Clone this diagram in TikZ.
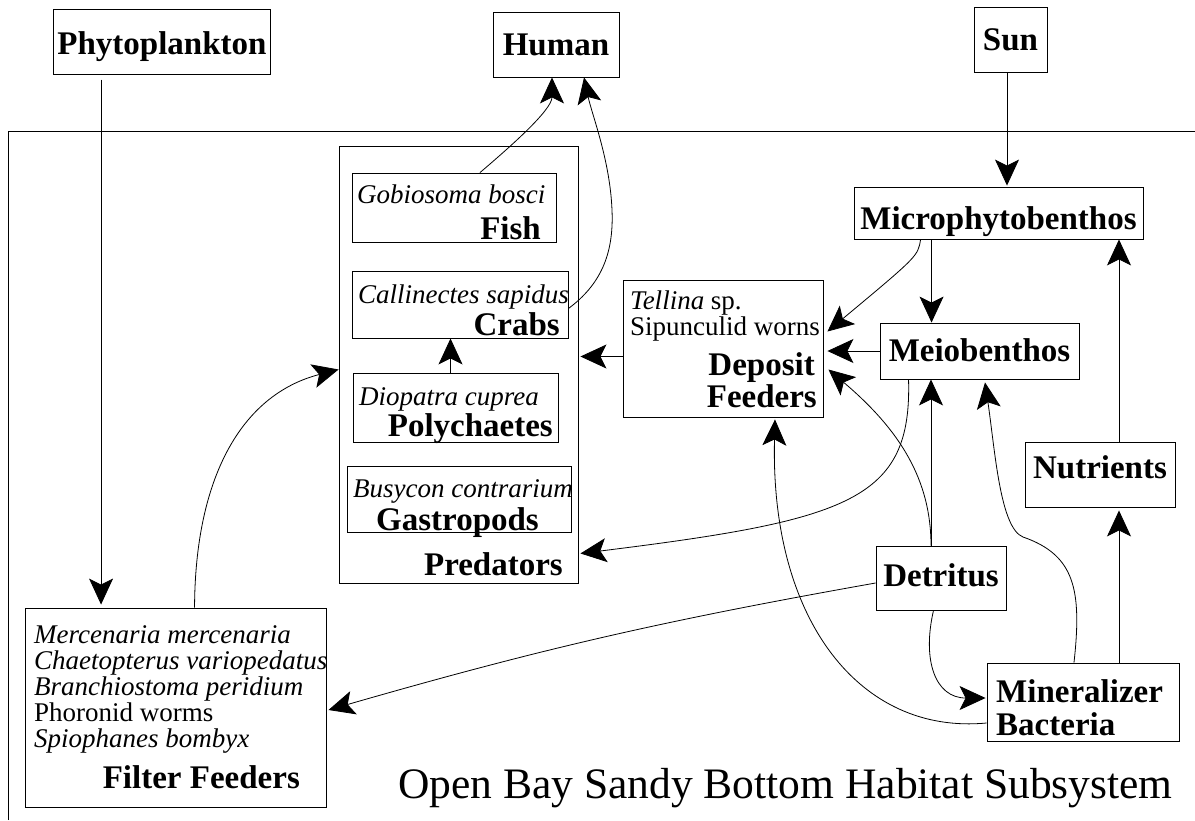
\documentclass[tikz,border=0pt]{standalone}
\usepackage{fontspec}
\setmainfont{Liberation Serif}
\usetikzlibrary{arrows.meta,calc}
\tikzset{
  box/.style={draw,line width=0.9pt,inner sep=0pt,text height=24pt,text depth=3pt,
    font=\fontsize{33}{36}\selectfont\bfseries},
  grp/.style={inner sep=0pt,font=\fontsize{33}{36}\selectfont\bfseries},
  spc/.style={inner sep=0pt,font=\fontsize{27}{29}\selectfont\itshape},
  txt/.style={inner sep=0pt,font=\fontsize{27}{29}\selectfont},
  flow/.style={line width=0.8pt,-{Stealth[length=26pt,width=24pt,inset=6pt]}},
}

\begin{document}
\begin{tikzpicture}[x=1pt,y=-1pt]
  \useasboundingbox (0,0) rectangle (1195,820);
  % habitat frame
  \draw[line width=0.9pt] (8,820) -- (8,131.5) -- (1195,131.5);
  % outside the habitat
  \node[box,minimum width=217pt,minimum height=65pt,text height=28pt] (phyto) at (162,41.7) {Phytoplankton};
  \node[box,minimum width=126pt,minimum height=65pt] (human) at (556,44.5) {Human};
  \node[box,minimum width=73pt,minimum height=65pt] (sun) at (1010.5,39.5) {Sun};
  % producers and benthos
  \node[box,minimum width=289pt,minimum height=52pt,text height=37pt,text depth=5pt] (micro) at (998.5,213) {Microphytobenthos};
  \node[box,minimum width=199pt,minimum height=56pt] (meio) at (979.5,351) {Meiobenthos};
  \node[box,minimum width=150pt,minimum height=65pt,text height=22pt,text depth=15pt] (nutr) at (1100,474.5) {Nutrients};
  \node[box,minimum width=130pt,minimum height=64pt,text height=22pt,text depth=5pt] (detr) at (941,578) {Detritus};
  \node[box,minimum width=192pt,minimum height=78pt] (miner) at (1083,702) {};
  \node[grp,anchor=base west] (minertxt) at (996,702) {Mineralizer};
  \node[grp,anchor=base west] (bacttxt) at (996,735) {Bacteria};
  % deposit feeders
  \node[box,minimum width=200pt,minimum height=137pt] (depo) at (723,348.5) {};
  \node[txt,anchor=base west] (tellina) at (630,309) {\textit{Tellina} sp.};
  \node[txt,anchor=base west] (sipun) at (630,335) {Sipunculid worns};
  \node[grp,anchor=base east] (deposit) at (815,375) {Deposit};
  \node[grp,anchor=base east] (feeders) at (817,407) {Feeders};
  % predators
  \node[box,minimum width=239pt,minimum height=437pt] (pred) at (458.5,364.5) {};
  \node[grp,anchor=base east] (predtxt) at (563,575) {Predators};
  \node[box,minimum width=204pt,minimum height=69pt] (fish) at (454,207.5) {};
  \node[spc,anchor=base west] (gobio) at (357,203) {Gobiosoma bosci};
  \node[grp,anchor=base east] (fishtxt) at (541,239) {Fish};
  \node[box,minimum width=216pt,minimum height=67pt] (crab) at (460,304.5) {};
  \node[spc,anchor=base west] (callin) at (358,303) {Callinectes sapidus};
  \node[grp,anchor=base east] (crabtxt) at (560,335) {Crabs};
  \node[box,minimum width=205pt,minimum height=69pt] (poly) at (455.5,407.5) {};
  \node[spc,anchor=base west] (diopa) at (359,405) {Diopatra cuprea};
  \node[grp,anchor=base east] (polytxt) at (553,436) {Polychaetes};
  \node[box,minimum width=224pt,minimum height=66pt] (gast) at (459,499) {};
  \node[spc,anchor=base west] (busyc) at (353,497) {Busycon contrarium};
  \node[grp,anchor=base west] (gasttxt) at (376,530) {Gastropods};
  % filter feeders
  \node[box,minimum width=301pt,minimum height=199pt] (filt) at (175.5,707.5) {};
  \foreach \t [count=\i] in {\textit{Mercenaria mercenaria},\textit{Chaetopterus variopedatus},
      \textit{Branchiostoma peridium},Phoronid worms,\textit{Spiophanes bombyx}}
    \node[txt,anchor=base west] (ff\i) at (34,{617+26*\i}) {\t};
  \node[grp,anchor=base east] (filttxt) at (300,788) {Filter Feeders};
  \node[anchor=base west,inner sep=0pt,font=\fontsize{43.5}{48}\selectfont] (title) at (398,798)
    {Open Bay Sandy Bottom Habitat Subsystem};
  % flows
  \draw[flow] ([xshift=48pt,yshift=-5pt]phyto.south west) -- ([xshift=76.5pt,yshift=3pt]filt.north west);
  \draw[flow,shorten >=1pt] ([xshift=-3.5pt]sun.south) -- ([xshift=-3.5pt]sun.south |- micro.north);
  \draw[flow] ([xshift=78pt]micro.south west) -- ([xshift=78pt]micro.south west |- meio.north);
  \draw[flow] ([xshift=67pt]micro.south west) .. controls (918,256) .. ([xshift=4pt,yshift=17pt]depo.east);
  \draw[flow,shorten >=4pt] (meio.west) -- (meio.west -| depo.east);
  \draw[flow,shorten >=2pt] ([yshift=-8pt]depo.west) -- ([yshift=-8pt]depo.west -| pred.east);
  \draw[flow] ([xshift=-5pt]poly.north) -- ([xshift=-5pt]poly.north |- crab.south);
  \draw[flow] ([xshift=26pt]fish.north) .. controls (510,147) and (552,110) .. ([xshift=-4pt]human.south);
  \draw[flow] ([yshift=-4pt]crab.east) .. controls (600,285) and (614,255) .. (612,210)
    .. controls (610,160) and (592,115) .. ([xshift=28pt]human.south);
  \draw[flow] ([xshift=170pt]filt.north west) .. controls (195,480) and (240,395) .. ([yshift=-5pt]pred.west);
  \draw[flow] ([xshift=29pt]meio.south west) .. controls (912,500) and (850,520) .. ([xshift=2pt,yshift=30pt]pred.south east);
  \draw[flow] ([xshift=-10pt]detr.north) .. controls (931,480) and (900,430) .. ([xshift=5pt,yshift=-21pt]depo.east);
  \draw[flow] ([xshift=-10pt]detr.north) -- ([xshift=-10pt]detr.north |- meio.south);
  \draw[flow] ([yshift=-5pt]detr.west) to[bend right=3] ([xshift=2pt,yshift=-2.5pt]filt.east);
  \draw[flow] ([xshift=-7.5pt]detr.south) .. controls (922,660) and (935,698) .. ([xshift=-1pt,yshift=4pt]miner.west);
  \draw[flow,shorten >=3pt] ([xshift=36pt]miner.north) -- ([xshift=36pt]miner.north |- nutr.south);
  \draw[flow] ([xshift=19pt]nutr.north) -- ([xshift=19pt]nutr.north |- micro.south);
  \draw[flow] ([xshift=-9pt]miner.north) .. controls (1082,590) and (1075,555) .. (1023,537)
    .. controls (1000,528) and (995,450) .. ([xshift=5.5pt,yshift=-3pt]meio.south);
  \draw[flow] ([yshift=-21pt]miner.west) .. controls (860,735) and (770,620) .. ([xshift=52pt,yshift=-2pt]depo.south);
\end{tikzpicture}
\end{document}
